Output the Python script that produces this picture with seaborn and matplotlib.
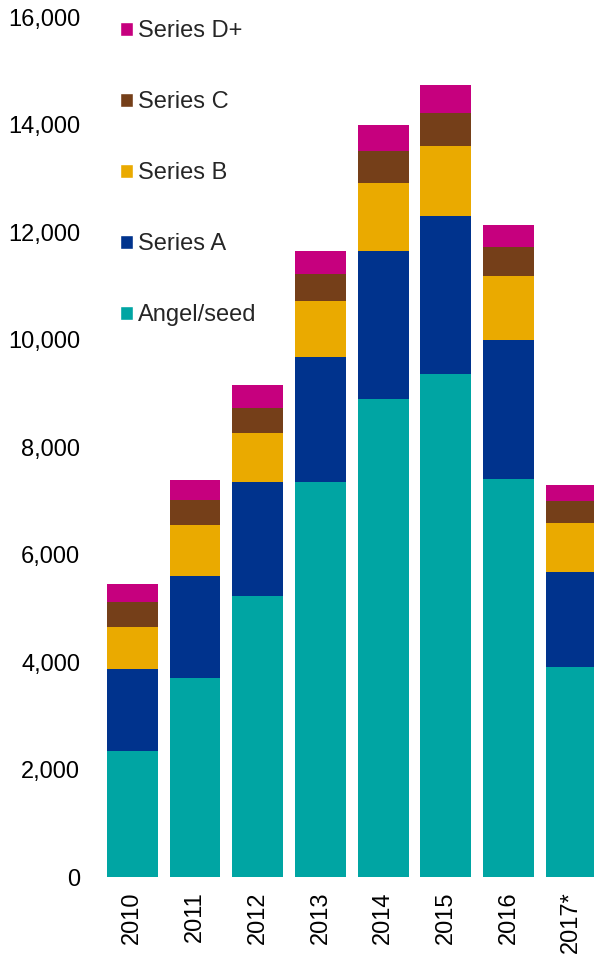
import numpy as np
import seaborn as sns
import matplotlib.pyplot as plt
from matplotlib.patches import Patch
from matplotlib.ticker import FuncFormatter

years = ["2010", "2011", "2012", "2013", "2014", "2015", "2016", "2017*"]
angel_seed = [2350, 3710, 5240, 7350, 8900, 9370, 7410, 3910]
series_a = [1530, 1900, 2110, 2330, 2760, 2940, 2590, 1770]
series_b = [780, 950, 920, 1050, 1260, 1300, 1190, 910]
series_c = [460, 470, 465, 490, 600, 610, 535, 410]
series_d = [345, 370, 420, 435, 485, 515, 410, 300]

labels = ["Angel/seed", "Series A", "Series B", "Series C", "Series D+"]
colors = ["#00A5A3", "#00338D", "#EAAA00", "#753F19", "#C6007E"]

sns.set_style("white")
plt.rcParams["font.family"] = ["Liberation Sans", "DejaVu Sans"]

fig = plt.figure(figsize=(5.94, 9.55), dpi=100)
ax = fig.add_axes([0.170, 0.0812, 0.8444, 0.9005])

layers = [angel_seed, series_a, series_b, series_c, series_d]
cum = np.cumsum(np.array(layers), axis=0)

# draw from the tallest stack down so each layer covers the one above it
for i in range(len(layers) - 1, -1, -1):
    sns.barplot(x=years, y=cum[i], color=colors[i], saturation=1,
                width=0.81, linewidth=0, ax=ax)

ax.set_xlim(-0.5, 7.5)
ax.set_ylim(0, 16000)
ax.set_yticks(range(0, 16001, 2000))
ax.yaxis.set_major_formatter(FuncFormatter(lambda v, p: "{:,.0f}".format(v)))
ax.tick_params(axis="y", length=0, pad=15, labelsize=17, colors="black")
ax.tick_params(axis="x", length=0, pad=10, labelsize=17, colors="black",
               labelrotation=90)
ax.set_xlabel("")
ax.set_ylabel("")
sns.despine(ax=ax, left=True, bottom=True)

handles = [Patch(facecolor=colors[i], label=labels[i])
           for i in range(len(labels) - 1, -1, -1)]
ax.legend(handles=handles, loc="upper left", bbox_to_anchor=(0.202, 0.979),
          bbox_transform=fig.transFigure, frameon=False, fontsize=17,
          handlelength=0.55, handleheight=0.55, handletextpad=0.22,
          labelspacing=2.08, borderaxespad=0, borderpad=0)

fig.savefig("out.png", dpi=100)
